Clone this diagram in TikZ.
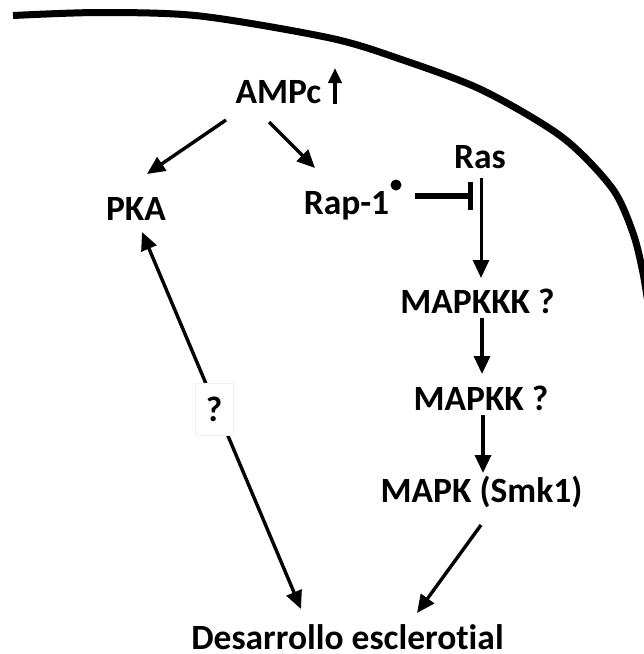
\documentclass[tikz,border=0pt]{standalone}
\usepackage{fontspec}
\setmainfont{Carlito}[Ligatures=NoCommon,RawFeature=-liga]
\usetikzlibrary{arrows.meta}
\begin{document}
\begin{tikzpicture}[x=1pt,y=-1pt,
  lbl/.style={inner sep=0pt,anchor=base,font=\fontsize{35.5}{40}\selectfont\bfseries},
  arr/.style={line width=3.4pt,-{Triangle[length=18pt,width=16pt]}},
  dbl/.style={line width=3.4pt,{Triangle[length=18pt,width=16pt]}-{Triangle[length=18pt,width=16pt]}},
  inh/.style={line width=5.5pt,-{Bar[width=28pt]}},
  qbox/.style={fill=white,draw=black!6,line width=0.6pt,minimum width=38pt,minimum height=52pt,inner sep=0pt,font=\fontsize{35.5}{40}\selectfont\bfseries}]
\useasboundingbox (0,0) rectangle (644,654);
% cell wall
\draw[line width=7pt] plot[smooth] coordinates {(13,15.5) (100,12.5) (200,16) (330,38) (400,59) (482,90) (562,137) (612,188) (633,233) (643,273) (649,310)};
% labels
\node[lbl] (ampc) at (278.5,103) {AMPc};
\node[lbl] (pka) at (136,220) {PKA};
\node[lbl] (rap) at (346.5,214) {Rap-1};
\node[lbl] (ras) at (480,168) {Ras};
\node[lbl] (mkkk) at (477.5,313) {MAPKKK ?};
\node[lbl] (mkk) at (481,410) {MAPKK ?};
\node[lbl] (mk) at (481.5,502) {MAPK (Smk1)};
\node[lbl] (des) at (347.5,649) {Desarrollo esclerotial};
% coordinates
\coordinate (upA) at (335,104);
\coordinate (upB) at (335,68);
\coordinate (a1) at (226,120);
\coordinate (a1t) at (147,174);
\coordinate (a2) at (269,122);
\coordinate (a2t) at (315,168);
\coordinate (dot) at (396,185);
\coordinate (i1) at (415,196);
\coordinate (i2) at (473,196);
\coordinate (r1) at (481,178);
\coordinate (r1t) at (481,278);
\coordinate (k1) at (482,318);
\coordinate (k1t) at (482,374);
\coordinate (k2) at (483,415);
\coordinate (k2t) at (483,473);
\coordinate (m1) at (481,525);
\coordinate (m1t) at (417,613);
\coordinate (pt) at (142,232);
\coordinate (dt) at (301,609);
% connectors
\draw[line width=3.8pt,-{Triangle[length=15pt,width=13pt]}] (upA) -- (upB);
\draw[arr] (a1) -- (a1t);
\draw[arr] (a2) -- (a2t);
\fill (dot) circle (5.5);
\draw[inh] (i1) -- (i2);
\draw[line width=3pt,-{Triangle[length=18pt,width=16pt]}] (r1) -- (r1t);
\draw[arr] (k1) -- (k1t);
\draw[arr] (k2) -- (k2t);
\draw[arr] (m1) -- (m1t);
\draw[dbl] (dt) -- (pt);
\node[qbox] (q) at (214,409) {?};
\end{tikzpicture}
\end{document}
